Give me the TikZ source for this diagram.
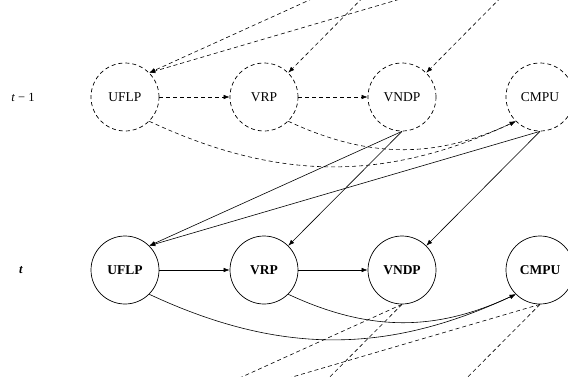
\documentclass[tikz,border=0pt]{standalone}
\usepackage{fontspec}
\setmainfont{Liberation Serif}
\usetikzlibrary{arrows.meta}
\begin{document}
\begin{tikzpicture}[x=1pt,y=-1pt,
  stage/.style={circle, draw, minimum size=68pt, inner sep=0pt, line width=0.7pt,
    font=\fontsize{13.5}{16}\selectfont},
  prevstage/.style={stage, dash pattern=on 4pt off 3pt},
  currstage/.style={stage, font=\fontsize{13.5}{16}\selectfont\bfseries},
  link/.style={line width=0.6pt, -{Latex[length=6pt,width=4.5pt]}},
  prevlink/.style={link, dash pattern=on 4pt off 3pt},
  rowlabel/.style={font=\fontsize{12.5}{15}\selectfont},
]
\useasboundingbox (0,0) rectangle (568,383);

% period labels
\node[rowlabel] (lprev) at (23,97) {\textit{t} − 1};
\node[rowlabel] (lcurr) at (21,270) {\textbf{\textit{t}}};

% period t-1
\node[prevstage] (u1) at (125,97) {UFLP};
\node[prevstage] (r1) at (264,97) {VRP};
\node[prevstage] (n1) at (402,97) {VNDP};
\node[prevstage] (c1) at (540,97) {CMPU};

% period t
\node[currstage] (u2) at (125,270) {UFLP};
\node[currstage] (r2) at (264,270) {VRP};
\node[currstage] (n2) at (402,270) {VNDP};
\node[currstage] (c2) at (540,270) {CMPU};

% stages of the neighbouring periods lie outside the frame
\coordinate (n0s) at (402,-42);
\coordinate (c0s) at (540,-42);
\coordinate (u3ne) at (149,419);
\coordinate (r3ne) at (288,419);
\coordinate (n3ne) at (426,419);

% links within period t-1
\draw[prevlink] (u1) -- (r1);
\draw[prevlink] (r1) -- (n1);
\draw[prevlink] (u1.south east) to[bend right=25] (c1.south west);
\draw[prevlink] (r1.south east) to[bend right=25] (c1.south west);

% links within period t
\draw[link] (u2) -- (r2);
\draw[link] (r2) -- (n2);
\draw[link] (u2.south east) to[bend right=25] (c2.south west);
\draw[link] (r2.south east) to[bend right=25] (c2.south west);

% links from period t-1 into period t
\draw[link] (n1.south) -- (u2.north east);
\draw[link] (n1.south) -- (r2.north east);
\draw[link] (c1.south) -- (u2.north east);
\draw[link] (c1.south) -- (n2.north east);

% links entering from t-2 and leaving towards t+1
\begin{scope}
  \clip (0,0) rectangle (568,376);
  \draw[prevlink] (n0s) -- (u1.north east);
  \draw[prevlink] (n0s) -- (r1.north east);
  \draw[prevlink] (c0s) -- (u1.north east);
  \draw[prevlink] (c0s) -- (n1.north east);
  \draw[prevlink] (n2.south) -- (u3ne);
  \draw[prevlink] (n2.south) -- (r3ne);
  \draw[prevlink] (c2.south) -- (u3ne);
  \draw[prevlink] (c2.south) -- (n3ne);
\end{scope}
\end{tikzpicture}
\end{document}
